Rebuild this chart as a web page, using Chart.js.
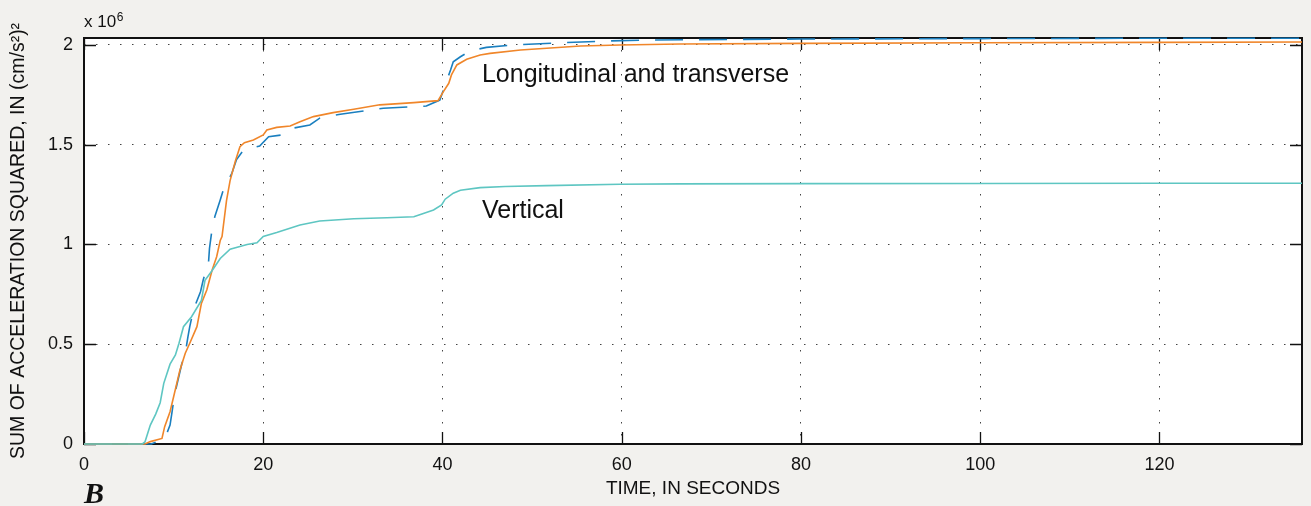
<!DOCTYPE html>
<html>
<head>
<meta charset="utf-8">
<script src="https://cdn.jsdelivr.net/npm/chart.js@4/dist/chart.umd.min.js"></script>
<style>
html,body{margin:0;padding:0;background:#f2f1ee;}
canvas{display:block;}
</style>
</head>
<body>
<canvas id="c" width="1311" height="506"></canvas>
<script>
// Time axis (seconds) and sums of acceleration squared (units of 10^6 (cm/s^2)^2)
const timeVert = [0, 6.5, 6.8, 7.4, 8.0, 8.5, 8.9, 9.6, 10.2, 10.6, 11.1, 12.0, 13.1, 13.5, 14.3, 15.2, 16.3, 18.2, 19.3, 20.0, 21.5, 24.1, 26.3, 30.1, 33.8, 36.8, 37.7, 39.0, 39.9, 40.3, 41.2, 42.0, 44.2, 47.0, 51.6, 59.8, 66.5, 80, 100, 120, 135.9];
const valVert  = [0, 0, 0.01, 0.095, 0.15, 0.207, 0.304, 0.40, 0.446, 0.505, 0.588, 0.638, 0.72, 0.82, 0.87, 0.93, 0.976, 1.00, 1.009, 1.04, 1.06, 1.098, 1.118, 1.129, 1.134, 1.139, 1.153, 1.173, 1.198, 1.227, 1.257, 1.272, 1.285, 1.291, 1.295, 1.302, 1.304, 1.305, 1.306, 1.307, 1.307];

const timeLong = [0, 6.8, 7.4, 8.7, 9.0, 9.6, 10.0, 10.7, 11.3, 11.8, 12.6, 13.1, 13.7, 14.3, 14.8, 15.2, 15.4, 15.9, 16.3, 16.9, 17.4, 17.9, 18.9, 20.0, 20.4, 21.5, 23.0, 24.1, 25.6, 27.8, 30.1, 33.0, 36.8, 39.5, 40.1, 40.7, 41.0, 41.6, 42.7, 44.2, 45.3, 48.7, 55.4, 59.8, 66.5, 80, 100, 120, 135.9];
const valLong  = [0, 0, 0.012, 0.028, 0.087, 0.162, 0.237, 0.37, 0.455, 0.505, 0.588, 0.705, 0.772, 0.872, 0.939, 1.02, 1.04, 1.22, 1.32, 1.42, 1.49, 1.51, 1.524, 1.549, 1.574, 1.587, 1.594, 1.615, 1.641, 1.661, 1.678, 1.70, 1.711, 1.721, 1.766, 1.808, 1.85, 1.90, 1.928, 1.95, 1.958, 1.975, 1.995, 2.0, 2.005, 2.008, 2.011, 2.013, 2.015];

const timeTrans = [0, 7.5, 8.6, 9.3, 9.6, 9.8, 10.1, 10.9, 11.3, 11.6, 11.8, 12.2, 13.0, 13.3, 13.9, 14.0, 14.25, 14.6, 15.2, 15.6, 16.5, 17.0, 17.8, 19.6, 20.6, 22.1, 23.2, 25.2, 26.3, 28.6, 33.4, 38.2, 39.7, 40.3, 40.9, 41.2, 42.0, 43.1, 44.9, 47.9, 53.1, 58.3, 62.8, 80, 100, 120, 135.9];
const valTrans  = [0, 0, 0.02, 0.06, 0.095, 0.154, 0.246, 0.40, 0.455, 0.538, 0.588, 0.672, 0.763, 0.822, 0.914, 0.98, 1.064, 1.14, 1.223, 1.282, 1.357, 1.424, 1.474, 1.494, 1.54, 1.549, 1.582, 1.599, 1.633, 1.653, 1.683, 1.694, 1.724, 1.80, 1.875, 1.916, 1.941, 1.971, 1.988, 2.0, 2.011, 2.02, 2.025, 2.03, 2.032, 2.034, 2.034];

const xTicks = [0, 20, 40, 60, 80, 100, 120];
const yTicks = [0, 0.5, 1, 1.5, 2];
const xMax = 135.9;
const yMax = 2.035;

const curveLabels = [
  {text: 'Longitudinal and transverse', t: 44.4, v: 1.815},
  {text: 'Vertical', t: 44.4, v: 1.133}
];

const toPts = (xs, ys) => xs.map((x, i) => ({x: x, y: ys[i]}));

const FONT = "'Liberation Sans', Arial, sans-serif";

const decor = {
  id: 'decor',
  beforeDraw(chart) {
    const {ctx, chartArea: a} = chart;
    ctx.save();
    ctx.fillStyle = '#f2f1ee';
    ctx.fillRect(0, 0, chart.width, chart.height);
    ctx.fillStyle = '#ffffff';
    ctx.fillRect(a.left, a.top, a.right - a.left, a.bottom - a.top);
    ctx.restore();
  },
  beforeDatasetsDraw(chart) {
    const {ctx, chartArea: a, scales} = chart;
    ctx.save();
    ctx.strokeStyle = '#111';
    ctx.lineWidth = 1.3;
    const tl = 12;
    xTicks.forEach(t => {
      const px = Math.round(scales.x.getPixelForValue(t)) + 0.5;
      ctx.beginPath();
      ctx.moveTo(px, a.bottom); ctx.lineTo(px, a.bottom - tl);
      ctx.moveTo(px, a.top); ctx.lineTo(px, a.top + tl);
      ctx.stroke();
    });
    yTicks.forEach(v => {
      const py = Math.round(scales.y.getPixelForValue(v)) + 0.5;
      ctx.beginPath();
      ctx.moveTo(a.left, py); ctx.lineTo(a.left + tl, py);
      ctx.moveTo(a.right, py); ctx.lineTo(a.right - tl, py);
      ctx.stroke();
    });
    ctx.lineWidth = 2;
    ctx.strokeRect(a.left, a.top, a.right - a.left, a.bottom - a.top);
    ctx.restore();
  },
  afterDraw(chart) {
    const {ctx, chartArea: a, scales} = chart;
    ctx.save();
    ctx.fillStyle = '#111';
    ctx.textBaseline = 'alphabetic';
    ctx.textAlign = 'left';
    ctx.font = '17px ' + FONT;
    ctx.fillText('x 10', a.left, 27);
    const w = ctx.measureText('x 10').width;
    ctx.font = '12px ' + FONT;
    ctx.fillText('6', a.left + w + 0.5, 21);
    ctx.font = '25px ' + FONT;
    curveLabels.forEach(l => {
      ctx.fillText(l.text, scales.x.getPixelForValue(l.t), scales.y.getPixelForValue(l.v));
    });
    ctx.font = "bold italic 30px 'Liberation Serif', 'DejaVu Serif', serif";
    ctx.fillText('B', a.left, 503);
    ctx.restore();
  }
};

new Chart(document.getElementById('c'), {
  type: 'line',
  data: {
    datasets: [
      {label: 'Vertical', data: toPts(timeVert, valVert), borderColor: '#5ec6c2', borderWidth: 1.6, pointRadius: 0, tension: 0, clip: false},
      {label: 'Longitudinal', data: toPts(timeLong, valLong), borderColor: '#f0862a', borderWidth: 1.6, pointRadius: 0, tension: 0, clip: false},
      {label: 'Transverse', data: toPts(timeTrans, valTrans), borderColor: '#1a7fbf', borderWidth: 1.6, borderDash: [28, 16], pointRadius: 0, tension: 0, clip: false}
    ]
  },
  options: {
    responsive: false,
    devicePixelRatio: 1,
    animation: false,
    events: [],
    layout: {padding: {top: 38, right: 9, left: 0, bottom: 0}},
    plugins: {legend: {display: false}, tooltip: {enabled: false}},
    scales: {
      x: {
        type: 'linear', min: 0, max: xMax,
        afterBuildTicks: s => { s.ticks = xTicks.map(v => ({value: v})); },
        afterFit: s => { s.height = 62; },
        grid: {color: '#444', lineWidth: 1, drawTicks: false},
        border: {display: false, dash: [1.5, 10.5]},
        ticks: {color: '#111', font: {family: FONT, size: 18}, padding: 10, maxRotation: 0, callback: v => String(v)},
        title: {display: true, text: 'TIME, IN SECONDS', color: '#111', font: {family: FONT, size: 19}, padding: {top: 0, bottom: 6}}
      },
      y: {
        type: 'linear', min: 0, max: yMax,
        afterBuildTicks: s => { s.ticks = yTicks.map(v => ({value: v})); },
        afterFit: s => { s.width = 84; },
        grid: {color: '#444', lineWidth: 1, drawTicks: false},
        border: {display: false, dash: [1.5, 10.5]},
        ticks: {color: '#111', font: {family: FONT, size: 18}, padding: 11, callback: v => String(v)},
        title: {display: true, text: 'SUM OF ACCELERATION SQUARED, IN (cm/s²)²', color: '#111', font: {family: FONT, size: 19.5}, padding: {top: 7, bottom: 0}}
      }
    }
  },
  plugins: [decor]
});
</script>
</body>
</html>
